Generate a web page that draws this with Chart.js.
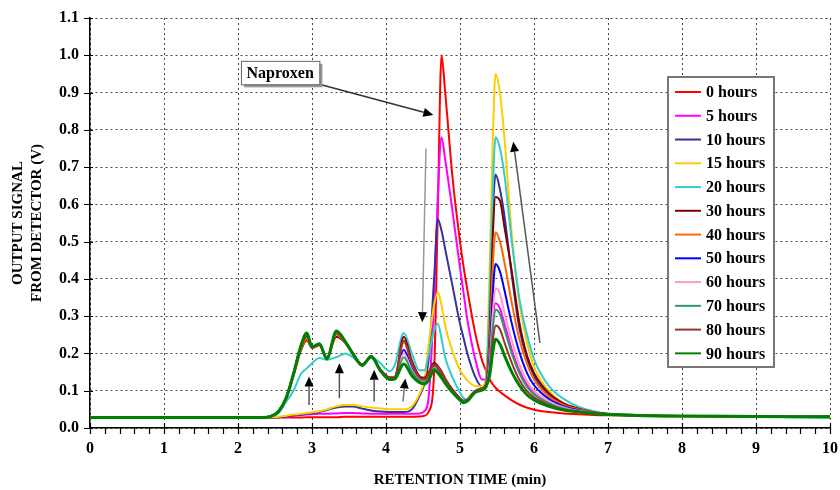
<!DOCTYPE html>
<html>
<head>
<meta charset="utf-8">
<script src="https://cdn.jsdelivr.net/npm/chart.js@4.4.0/dist/chart.umd.min.js"></script>
<style>
  html, body { margin: 0; padding: 0; background: #fff; }
  canvas { display: block; }
</style>
</head>
<body>
<canvas id="chromChart" width="840" height="490"></canvas>
<script>
// retention time (min), shared by all runs
const times = [0, 1, 2, 2.3, 2.45, 2.55, 2.65, 2.75, 2.85, 2.93, 3.0, 3.1, 3.2, 3.33, 3.45, 3.55, 3.68, 3.8, 3.92, 4.05,
  4.12, 4.24, 4.35, 4.45, 4.52, 4.58, 4.65, 4.7, 4.75, 4.8, 4.9, 5.0, 5.05, 5.1, 5.2, 5.3, 5.35, 5.4, 5.44, 5.48,
  5.54, 5.6, 5.7, 5.8, 5.9, 6.0, 6.2, 6.4, 6.6, 6.8, 7.0, 7.5, 8, 9, 10];

// output signal (V)
const h0 = [0.028, 0.028, 0.028, 0.028, 0.028, 0.028, 0.028, 0.028, 0.028, 0.029, 0.029, 0.029, 0.029, 0.029, 0.03, 0.03, 0.03, 0.03, 0.03, 0.03,
  0.03, 0.03, 0.03, 0.031, 0.033, 0.045, 0.15, 0.58, 1.0, 0.9, 0.67, 0.5, 0.43, 0.37, 0.26, 0.18, 0.155, 0.13, 0.118, 0.108,
  0.097, 0.088, 0.074, 0.063, 0.055, 0.049, 0.043, 0.039, 0.037, 0.035, 0.034, 0.033, 0.032, 0.031, 0.03];
const h5 = [0.028, 0.028, 0.028, 0.028, 0.028, 0.029, 0.03, 0.033, 0.035, 0.036, 0.037, 0.038, 0.038, 0.039, 0.04, 0.04, 0.039, 0.038, 0.038, 0.038,
  0.038, 0.038, 0.038, 0.039, 0.045, 0.09, 0.35, 0.62, 0.78, 0.72, 0.58, 0.43, 0.36, 0.29, 0.19, 0.13, 0.13, 0.2, 0.29, 0.335,
  0.32, 0.28, 0.21, 0.155, 0.117, 0.093, 0.068, 0.053, 0.045, 0.04, 0.036, 0.034, 0.032, 0.031, 0.03];
const h10 = [0.028, 0.028, 0.028, 0.028, 0.028, 0.029, 0.031, 0.034, 0.036, 0.038, 0.04, 0.043, 0.048, 0.055, 0.058, 0.058, 0.052, 0.047, 0.044, 0.043,
  0.043, 0.043, 0.05, 0.085, 0.12, 0.19, 0.4, 0.56, 0.53, 0.48, 0.38, 0.28, 0.24, 0.2, 0.14, 0.11, 0.125, 0.33, 0.56, 0.68,
  0.64, 0.57, 0.41, 0.27, 0.19, 0.14, 0.088, 0.062, 0.049, 0.041, 0.036, 0.033, 0.031, 0.031, 0.03];
const h15 = [0.028, 0.028, 0.028, 0.028, 0.029, 0.03, 0.033, 0.036, 0.038, 0.04, 0.042, 0.045, 0.05, 0.058, 0.062, 0.062, 0.058, 0.055, 0.053, 0.05,
  0.05, 0.05, 0.058, 0.09, 0.13, 0.23, 0.33, 0.365, 0.33, 0.275, 0.205, 0.155, 0.14, 0.127, 0.113, 0.112, 0.13, 0.42, 0.75, 0.95,
  0.9, 0.78, 0.52, 0.34, 0.235, 0.165, 0.1, 0.066, 0.05, 0.041, 0.036, 0.033, 0.031, 0.031, 0.03];
const h20 = [0.028, 0.028, 0.028, 0.028, 0.03, 0.04, 0.07, 0.1, 0.145, 0.16, 0.174, 0.188, 0.183, 0.19, 0.2, 0.19, 0.17, 0.19, 0.175, 0.152,
  0.17, 0.255, 0.2, 0.155, 0.155, 0.2, 0.262, 0.28, 0.24, 0.19, 0.135, 0.095, 0.08, 0.076, 0.095, 0.105, 0.12, 0.35, 0.62, 0.78,
  0.75, 0.68, 0.5, 0.35, 0.255, 0.185, 0.113, 0.078, 0.057, 0.045, 0.038, 0.034, 0.032, 0.031, 0.027];
const h30 = [0.028, 0.028, 0.028, 0.028, 0.031, 0.044, 0.078, 0.14, 0.208, 0.235, 0.215, 0.222, 0.19, 0.245, 0.228, 0.2, 0.17, 0.19, 0.158, 0.136,
  0.138, 0.245, 0.18, 0.14, 0.135, 0.15, 0.175, 0.166, 0.152, 0.133, 0.103, 0.08, 0.073, 0.077, 0.099, 0.107, 0.117, 0.25, 0.5, 0.62,
  0.61, 0.54, 0.42, 0.285, 0.198, 0.148, 0.094, 0.066, 0.052, 0.043, 0.038, 0.034, 0.032, 0.031, 0.03];
const h40 = [0.028, 0.028, 0.028, 0.028, 0.031, 0.044, 0.078, 0.14, 0.21, 0.238, 0.214, 0.222, 0.188, 0.25, 0.228, 0.2, 0.17, 0.192, 0.158, 0.135,
  0.137, 0.23, 0.17, 0.136, 0.13, 0.145, 0.17, 0.162, 0.148, 0.13, 0.101, 0.079, 0.072, 0.076, 0.098, 0.106, 0.115, 0.22, 0.42, 0.525,
  0.5, 0.445, 0.335, 0.24, 0.175, 0.13, 0.085, 0.062, 0.05, 0.042, 0.037, 0.033, 0.032, 0.031, 0.03];
const h50 = [0.028, 0.028, 0.028, 0.028, 0.032, 0.046, 0.082, 0.148, 0.222, 0.252, 0.218, 0.226, 0.188, 0.258, 0.232, 0.201, 0.17, 0.193, 0.158, 0.134,
  0.136, 0.21, 0.16, 0.132, 0.127, 0.14, 0.166, 0.158, 0.145, 0.128, 0.1, 0.078, 0.071, 0.075, 0.097, 0.105, 0.113, 0.19, 0.35, 0.44,
  0.42, 0.37, 0.28, 0.205, 0.15, 0.115, 0.078, 0.058, 0.048, 0.041, 0.037, 0.033, 0.032, 0.031, 0.03];
const h60 = [0.028, 0.028, 0.028, 0.028, 0.032, 0.045, 0.08, 0.145, 0.218, 0.248, 0.217, 0.225, 0.187, 0.256, 0.23, 0.2, 0.169, 0.192, 0.157, 0.133,
  0.135, 0.2, 0.155, 0.13, 0.125, 0.138, 0.163, 0.155, 0.142, 0.126, 0.098, 0.077, 0.07, 0.074, 0.096, 0.104, 0.112, 0.17, 0.3, 0.375,
  0.36, 0.31, 0.235, 0.172, 0.128, 0.1, 0.072, 0.055, 0.046, 0.04, 0.036, 0.033, 0.032, 0.031, 0.03];
const h70 = [0.028, 0.028, 0.028, 0.028, 0.032, 0.045, 0.08, 0.145, 0.218, 0.25, 0.217, 0.225, 0.186, 0.258, 0.231, 0.2, 0.169, 0.192, 0.156, 0.132,
  0.134, 0.19, 0.15, 0.127, 0.122, 0.135, 0.16, 0.152, 0.14, 0.124, 0.097, 0.076, 0.069, 0.073, 0.095, 0.103, 0.111, 0.16, 0.26, 0.318,
  0.305, 0.265, 0.2, 0.148, 0.112, 0.09, 0.066, 0.052, 0.045, 0.04, 0.036, 0.033, 0.032, 0.031, 0.03];
const h80 = [0.028, 0.028, 0.028, 0.028, 0.032, 0.046, 0.082, 0.145, 0.215, 0.245, 0.215, 0.224, 0.188, 0.255, 0.23, 0.2, 0.17, 0.192, 0.158, 0.134,
  0.136, 0.235, 0.175, 0.135, 0.13, 0.145, 0.17, 0.16, 0.145, 0.128, 0.1, 0.078, 0.07, 0.074, 0.096, 0.104, 0.112, 0.15, 0.23, 0.275,
  0.265, 0.23, 0.175, 0.13, 0.1, 0.082, 0.062, 0.05, 0.044, 0.039, 0.036, 0.033, 0.032, 0.031, 0.03];
const h90 = [0.028, 0.028, 0.028, 0.028, 0.032, 0.045, 0.08, 0.145, 0.22, 0.255, 0.218, 0.226, 0.185, 0.26, 0.232, 0.2, 0.168, 0.192, 0.155, 0.13,
  0.132, 0.172, 0.14, 0.122, 0.118, 0.13, 0.155, 0.148, 0.135, 0.12, 0.095, 0.075, 0.068, 0.072, 0.095, 0.102, 0.11, 0.14, 0.2, 0.238,
  0.225, 0.195, 0.15, 0.115, 0.09, 0.075, 0.058, 0.048, 0.043, 0.039, 0.036, 0.033, 0.032, 0.031, 0.03];

const seriesValues = [h0, h5, h10, h15, h20, h30, h40, h50, h60, h70, h80, h90];
const seriesLabels = ['0 hours', '5 hours', '10 hours', '15 hours', '20 hours', '30 hours',
  '40 hours', '50 hours', '60 hours', '70 hours', '80 hours', '90 hours'];
const seriesColors = ['#ff0000', '#ff00ff', '#333399', '#ffcc00', '#33cccc', '#800000',
  '#ff6600', '#0000ff', '#ff99cc', '#339966', '#993333', '#008000'];

const xTicks = [0, 1, 2, 3, 4, 5, 6, 7, 8, 9, 10];
const yTicks = [0, 0.1, 0.2, 0.3, 0.4, 0.5, 0.6, 0.7, 0.8, 0.9, 1.0, 1.1];

// annotation arrows in data units: [x tail, y tail, x head, y head, shaft colour]
const arrows = [
  [3.1, 0.922, 4.64, 0.84, '#333'],
  [4.54, 0.75, 4.49, 0.284, '#999'],
  [6.08, 0.228, 5.72, 0.768, '#555'],
  [2.96, 0.062, 2.96, 0.138, '#555'],
  [3.37, 0.08, 3.37, 0.174, '#555'],
  [3.84, 0.071, 3.84, 0.156, '#555'],
  [4.23, 0.071, 4.26, 0.133, '#777']
];
const naproxenLabel = 'Naproxen';
const naproxenBox = [2.04, 0.985, 3.1, 0.922];

const serif = "'Liberation Serif', 'Times New Roman', serif";

function drawArrow(ctx, x1, y1, x2, y2, shaft) {
  const ang = Math.atan2(y2 - y1, x2 - x1);
  const len = 10, half = 4.5;
  const bx = x2 - len * Math.cos(ang), by = y2 - len * Math.sin(ang);
  ctx.strokeStyle = shaft;
  ctx.lineWidth = 1.5;
  ctx.beginPath();
  ctx.moveTo(x1, y1);
  ctx.lineTo(bx, by);
  ctx.stroke();
  ctx.fillStyle = '#000';
  ctx.beginPath();
  ctx.moveTo(x2, y2);
  ctx.lineTo(bx + half * Math.sin(ang), by - half * Math.cos(ang));
  ctx.lineTo(bx - half * Math.sin(ang), by + half * Math.cos(ang));
  ctx.closePath();
  ctx.fill();
}

const annotations = {
  id: 'annotations',
  afterDatasetsDraw(chart) {
    const {ctx, scales: {x, y}} = chart;
    ctx.save();
    arrows.forEach(a => drawArrow(ctx, x.getPixelForValue(a[0]), y.getPixelForValue(a[1]),
      x.getPixelForValue(a[2]), y.getPixelForValue(a[3]), a[4]));
    const bx0 = x.getPixelForValue(naproxenBox[0]), by0 = y.getPixelForValue(naproxenBox[1]);
    const bx1 = x.getPixelForValue(naproxenBox[2]), by1 = y.getPixelForValue(naproxenBox[3]);
    ctx.fillStyle = '#999';
    ctx.fillRect(bx0 + 3, by0 + 3, bx1 - bx0, by1 - by0);
    ctx.fillStyle = '#fff';
    ctx.fillRect(bx0, by0, bx1 - bx0, by1 - by0);
    ctx.strokeStyle = '#666';
    ctx.lineWidth = 1;
    ctx.strokeRect(bx0 + 0.5, by0 + 0.5, bx1 - bx0, by1 - by0);
    ctx.fillStyle = '#000';
    ctx.font = 'bold 16px ' + serif;
    ctx.textAlign = 'center';
    ctx.textBaseline = 'middle';
    ctx.fillText(naproxenLabel, (bx0 + bx1) / 2, (by0 + by1) / 2 + 1);
    ctx.restore();
  }
};

const boxLegend = {
  id: 'boxLegend',
  afterDraw(chart) {
    const {ctx} = chart;
    const left = 668, top = 77, w = 106, h = 290, step = 23.76;
    ctx.save();
    ctx.fillStyle = '#fff';
    ctx.fillRect(left, top, w, h);
    ctx.strokeStyle = '#777';
    ctx.lineWidth = 2;
    ctx.strokeRect(left, top, w, h);
    ctx.font = 'bold 16px ' + serif;
    ctx.textBaseline = 'middle';
    ctx.textAlign = 'left';
    chart.data.datasets.forEach((ds, i) => {
      const cy = top + 15 + i * step;
      ctx.strokeStyle = ds.borderColor;
      ctx.lineWidth = 2;
      ctx.beginPath();
      ctx.moveTo(left + 7, cy);
      ctx.lineTo(left + 33, cy);
      ctx.stroke();
      ctx.fillStyle = '#000';
      ctx.fillText(ds.label, left + 38, cy + 1);
    });
    ctx.restore();
  }
};

const tickMarks = {
  id: 'tickMarks',
  afterDraw(chart) {
    const {ctx, chartArea: a, scales: {x, y}} = chart;
    ctx.save();
    ctx.strokeStyle = '#000';
    ctx.lineWidth = 1.2;
    ctx.beginPath();
    for (let k = 0; k <= 50; k++) {
      const px = Math.round(x.getPixelForValue(k / 5)) + 0.5;
      const major = k % 5 === 0;
      ctx.moveTo(px, a.bottom + (major ? -5 : 0));
      ctx.lineTo(px, a.bottom + 6);
    }
    yTicks.forEach(v => {
      const py = Math.round(y.getPixelForValue(v)) + 0.5;
      ctx.moveTo(a.left - 6, py);
      ctx.lineTo(a.left + 3, py);
    });
    ctx.stroke();
    ctx.restore();
  }
};

const datasets = seriesValues.map((vals, i) => ({
  label: seriesLabels[i],
  data: times.map((t, j) => ({x: t, y: vals[j]})),
  borderColor: seriesColors[i],
  borderWidth: i === 11 ? 3 : 2,
  pointRadius: 0,
  fill: false,
  cubicInterpolationMode: 'monotone',
  order: seriesValues.length - 1 - i
}));

const chromChart = new Chart('chromChart', {
  type: 'line',
  data: { datasets: datasets },
  options: {
    responsive: false,
    animation: false,
    layout: { padding: { top: 18, right: 10, left: 0, bottom: 0 } },
    plugins: { legend: { display: false }, tooltip: { enabled: false } },
    scales: {
      x: {
        type: 'linear',
        min: 0,
        max: 10,
        afterBuildTicks: s => { s.ticks = xTicks.map(v => ({value: v})); },
        afterFit: s => { s.height = 62; s.paddingLeft = 0; s.paddingRight = 0; },
        ticks: { color: '#000', padding: 11, maxRotation: 0, font: { family: serif, size: 16, weight: 'bold' } },
        grid: { color: '#444', lineWidth: 1, drawTicks: false },
        border: { color: '#000', width: 1.5, dash: [2, 3] },
        title: { display: true, text: 'RETENTION TIME (min)', color: '#000', padding: { top: 0, bottom: 1 },
          font: { family: serif, size: 15, weight: 'bold', lineHeight: 1.2 } }
      },
      y: {
        min: 0,
        max: 1.1,
        afterBuildTicks: s => { s.ticks = yTicks.map(v => ({value: v})); },
        afterFit: s => { s.width = 90; s.paddingTop = 0; s.paddingBottom = 0; },
        ticks: { color: '#000', padding: 11, callback: v => v.toFixed(1), font: { family: serif, size: 16, weight: 'bold' } },
        grid: { color: '#444', lineWidth: 1, drawTicks: false },
        border: { color: '#000', width: 1.5, dash: [2, 3] },
        title: { display: true, text: ['OUTPUT SIGNAL', 'FROM DETECTOR (V)'], color: '#000', padding: { top: 9, bottom: 0 },
          font: { family: serif, size: 15, weight: 'bold', lineHeight: 1.25 } }
      }
    }
  },
  plugins: [annotations, tickMarks, boxLegend]
});
</script>
</body>
</html>
